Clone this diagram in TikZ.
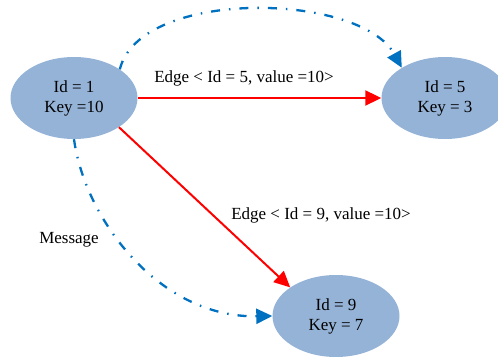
\documentclass[tikz,border=0pt]{standalone}
\usepackage{fontspec}
\setmainfont{Liberation Serif}
\usetikzlibrary{shapes.geometric,arrows.meta}
\definecolor{nodefill}{HTML}{95B3D7}
\definecolor{msgblue}{HTML}{0070C0}
\tikzset{
  vertex/.style={ellipse, fill=nodefill, minimum width=127pt, minimum height=82pt,
    inner sep=0pt, align=center, font=\fontsize{17}{20}\selectfont},
  edgeline/.style={red, line width=2pt, -{Triangle[length=16pt,width=15pt]}},
  msgline/.style={msgblue, line width=2.3pt,
    dash pattern=on 9pt off 9pt on 1.5pt off 9pt,
    -{Triangle[length=16pt,width=15pt]}},
  lbl/.style={inner sep=0pt, font=\fontsize{17}{20}\selectfont}
}
\begin{document}
\begin{tikzpicture}[x=1pt,y=-1pt]
\useasboundingbox (0,0) rectangle (498,358);
% vertices
\node[vertex] (n1) at (74,98) {Id = 1\\Key =10};
\node[vertex] (n5) at (445,98) {Id = 5\\Key = 3};
\node[vertex] (n9) at (336,316) {Id = 9\\Key = 7};
% edges
\draw[edgeline] (n1.east) -- (n5.west);
\draw[edgeline] (n1.-33) -- (n9.148);
% messages
\draw[msgline] (n1.32) .. controls (140,-12) and (360,-8) .. (n5.145);
\draw[msgline] (n1.south) .. controls (85,220) and (160,318) .. (n9.west);
% labels
\node[lbl] (l5) at (244,78) {Edge < Id = 5, value =10>};
\node[lbl] (l9) at (321,215) {Edge < Id = 9, value =10>};
\node[lbl] (lm) at (69,240) {Message};
\end{tikzpicture}
\end{document}
